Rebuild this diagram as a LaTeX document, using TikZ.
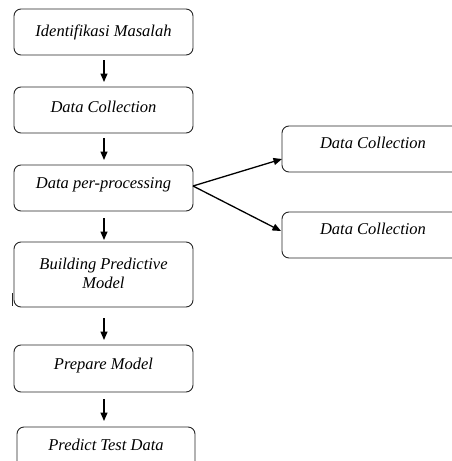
\documentclass[tikz,border=0pt]{standalone}
\usepackage{fontspec}
\setmainfont{Liberation Serif}
\usetikzlibrary{arrows.meta}
\begin{document}
\begin{tikzpicture}[x=1pt,y=-1pt,
  box/.style={draw=black!85,line width=0.9pt,rounded corners=7pt},
  label/.style={font=\fontsize{16.5}{19}\selectfont\itshape,align=center,inner sep=0pt},
  flow/.style={-{Triangle[length=8.5pt,width=7pt]},line width=1.3pt}]
\useasboundingbox (0,0) rectangle (452,461);
\clip (0,0) rectangle (452,461);

% main column
\draw[box] (14,9) rectangle (193,55);
\node[label] (t1) at (103.5,32) {Identifikasi Masalah};
\draw[box] (14,87) rectangle (193,133);
\node[label] (t2) at (103.5,107) {Data Collection};
\draw[box] (14,165) rectangle (193,211);
\node[label] (t3) at (103.5,185) {Data per-processing};
\draw[box] (14,242) rectangle (193,307);
\node[label] (t4) at (103.5,273) {Building Predictive\\[0pt]Model};
\draw[box] (14,345) rectangle (193,392);
\node[label] (t5) at (103.5,366) {Prepare Model};
\draw[box] (17,427) rectangle (195,480);
\node[label] (t6) at (106,445) {Predict Test Data};

% side branch
\draw[box] (282,126) rectangle (470,172);
\node[label] (s1) at (373,143) {Data Collection};
\draw[box] (282,212) rectangle (470,258);
\node[label] (s2) at (373,229) {Data Collection};

% connectors
\coordinate (a1s) at (104,60);  \coordinate (a1e) at (104,82);
\coordinate (a2s) at (104,138); \coordinate (a2e) at (104,160);
\coordinate (a3s) at (104,218); \coordinate (a3e) at (104,240);
\coordinate (a4s) at (104,318); \coordinate (a4e) at (104,340);
\coordinate (a5s) at (104,399); \coordinate (a5e) at (104,421);
\draw[flow] (a1s) -- (a1e);
\draw[flow] (a2s) -- (a2e);
\draw[flow] (a3s) -- (a3e);
\draw[flow] (a4s) -- (a4e);
\draw[flow] (a5s) -- (a5e);

\coordinate (fork) at (193,186);
\coordinate (up) at (282,159);
\coordinate (down) at (281,231);
\draw[flow] (fork) -- (up);
\draw[flow] (fork) -- (down);

% short stroke beside the model box
\coordinate (m1) at (12.5,293);
\coordinate (m2) at (12.5,306);
\draw[line width=1.6pt,black!85] (m1) -- (m2);
\end{tikzpicture}
\end{document}
